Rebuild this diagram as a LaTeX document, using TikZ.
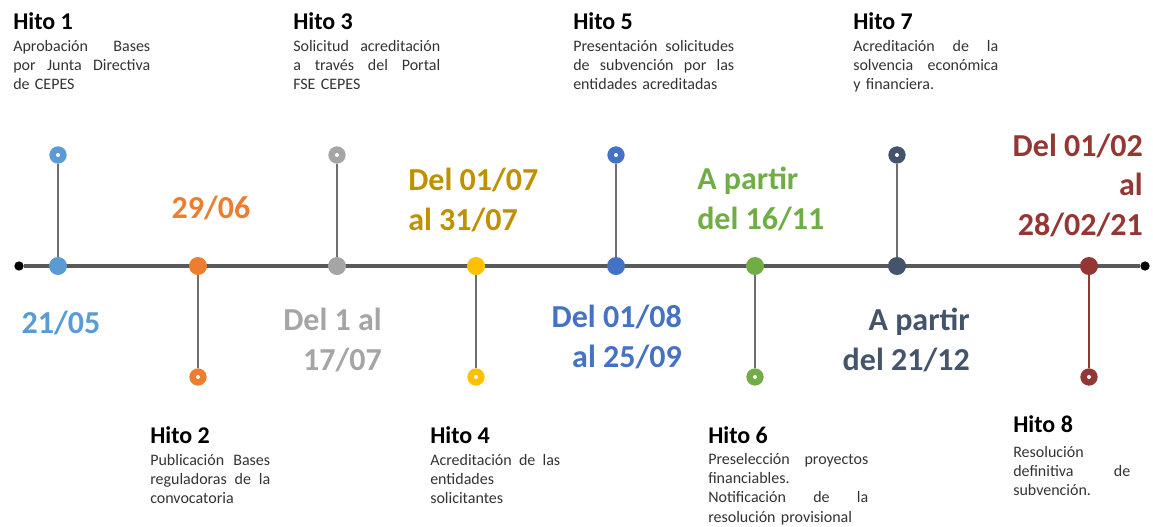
\documentclass[tikz,border=0pt]{standalone}
\usepackage{fontspec}
\setmainfont{Carlito}
\usepackage{xcolor}
\usepackage{tikz}
\usetikzlibrary{positioning}

\definecolor{hitoA}{HTML}{5B9BD5}
\definecolor{hitoB}{HTML}{ED7D31}
\definecolor{hitoC}{HTML}{A5A5A5}
\definecolor{hitoD}{HTML}{FFC000}
\definecolor{hitoDtxt}{HTML}{BF9000}
\definecolor{hitoE}{HTML}{4472C4}
\definecolor{hitoF}{HTML}{70AD47}
\definecolor{hitoG}{HTML}{44546A}
\definecolor{hitoH}{HTML}{943634}
\definecolor{axisgray}{HTML}{595959}
\definecolor{linkgray}{HTML}{6E6E6E}

% justified line
\newcommand{\jl}[1]{\makebox[\hsize][s]{\spaceskip=0pt\xspaceskip=0pt\relax #1}}

\begin{document}
\begin{tikzpicture}[
    x=0.75pt, y=-0.75pt,
    axisdot/.style={circle, inner sep=0pt, minimum size=13.5pt},
    marker/.style={circle, inner sep=0pt, minimum size=13pt, path picture={\fill[white] (path picture bounding box.center) circle (1.5pt);}},
    enddot/.style={circle, fill=black, inner sep=0pt, minimum size=7pt},
    link/.style={line width=1.2pt, draw=linkgray},
    title/.style={font=\fontsize{18}{21}\selectfont\bfseries, inner sep=0pt, anchor=base west},
    desc/.style={font=\fontsize{12}{14.6}\selectfont, text=black!80, inner sep=0pt, anchor=base west, align=left},
    date/.style={font=\fontsize{24}{29.5}\selectfont\bfseries, inner sep=0pt}
]
\useasboundingbox (0,0) rectangle (1153,526);

% Axis
\node[enddot] (ini) at (19,266) {};
\node[enddot] (fin) at (1145,266) {};
\draw[line width=3pt, axisgray] (ini) -- (fin);

\node[axisdot, fill=hitoA] (d1) at (58,266) {};
\node[axisdot, fill=hitoB] (d2) at (198,266) {};
\node[axisdot, fill=hitoC] (d3) at (337,266) {};
\node[axisdot, fill=hitoD] (d4) at (476,266) {};
\node[axisdot, fill=hitoE] (d5) at (616,266) {};
\node[axisdot, fill=hitoF] (d6) at (755,266) {};
\node[axisdot, fill=hitoG] (d7) at (897,266) {};
\node[axisdot, fill=hitoH] (d8) at (1089,266) {};

% Markers
\node[marker, fill=hitoA] (m1) at (58,155) {};
\node[marker, fill=hitoB] (m2) at (198,377) {};
\node[marker, fill=hitoC] (m3) at (337,155) {};
\node[marker, fill=hitoD] (m4) at (476,377) {};
\node[marker, fill=hitoE] (m5) at (616,155) {};
\node[marker, fill=hitoF] (m6) at (755,377) {};
\node[marker, fill=hitoG] (m7) at (897,155) {};
\node[marker, fill=hitoH] (m8) at (1089,377) {};

\draw[link] (m1) -- (d1);
\draw[link] (m2) -- (d2);
\draw[link] (m3) -- (d3);
\draw[link] (m4) -- (d4);
\draw[link] (m5) -- (d5);
\draw[link] (m6) -- (d6);
\draw[link] (m7) -- (d7);
\draw[link, draw=hitoH] (m8) -- (d8);

% Dates (base = last line)
\node[date, text=hitoA, anchor=base] (f1) at (61,333) {21/05};
\node[date, text=hitoB, anchor=base] (f2) at (211,218) {29/06};
\node[date, text=hitoC, anchor=base east, align=right] (f3) at (382,370) {Del 1 al\\17/07};
\node[date, text=hitoDtxt, anchor=base west, align=left] (f4) at (408,230) {Del 01/07\\al 31/07};
\node[date, text=hitoE, anchor=base east, align=right] (f5) at (682,367) {Del 01/08\\al 25/09};
\node[date, text=hitoF, anchor=base west, align=left] (f6) at (697,229) {A partir\\del 16/11};
\node[date, text=hitoG, anchor=base east, align=right] (f7) at (970,370) {A partir\\del 21/12};
\node[date, text=hitoH, anchor=base east, align=right] (f8) at (1143,235) {Del 01/02\\al\\28/02/21};

% Milestones
\node[title] (h1) at (13,29) {Hito 1};
\node[desc, text width=102.75pt] (t1) at (13,51) {\jl{Aprobación Bases}\\\jl{por Junta Directiva}\\de CEPES};
\node[title] (h3) at (293,29) {Hito 3};
\node[desc, text width=110.25pt] (t3) at (293,51) {\jl{Solicitud acreditación}\\\jl{a través del Portal}\\FSE CEPES};
\node[title] (h5) at (573,29) {Hito 5};
\node[desc, text width=120.75pt] (t5) at (573,51) {\jl{Presentación solicitudes}\\\jl{de subvención por las}\\entidades acreditadas};
\node[title] (h7) at (853,29) {Hito 7};
\node[desc, text width=108.75pt] (t7) at (853,51) {\jl{Acreditación de la}\\\jl{solvencia económica}\\y financiera.};

\node[title] (h2) at (150,443) {Hito 2};
\node[desc, text width=90pt] (t2) at (150,465) {\jl{Publicación Bases}\\\jl{reguladoras de la}\\convocatoria};
\node[title] (h4) at (430,443) {Hito 4};
\node[desc, text width=97.5pt] (t4) at (430,465) {\jl{Acreditación de las}\\entidades\\solicitantes};
\node[title] (h6) at (708,443) {Hito 6};
\node[desc, text width=120pt] (t6) at (708,464) {\jl{Preselección proyectos}\\financiables.\\\jl{Notificación de la}\\resolución provisional};
\node[title] (h8) at (1013,432) {Hito 8};
\node[desc, text width=87.75pt] (t8) at (1013,457) {Resolución\\\jl{definitiva de}\\subvención.};

\end{tikzpicture}
\end{document}
